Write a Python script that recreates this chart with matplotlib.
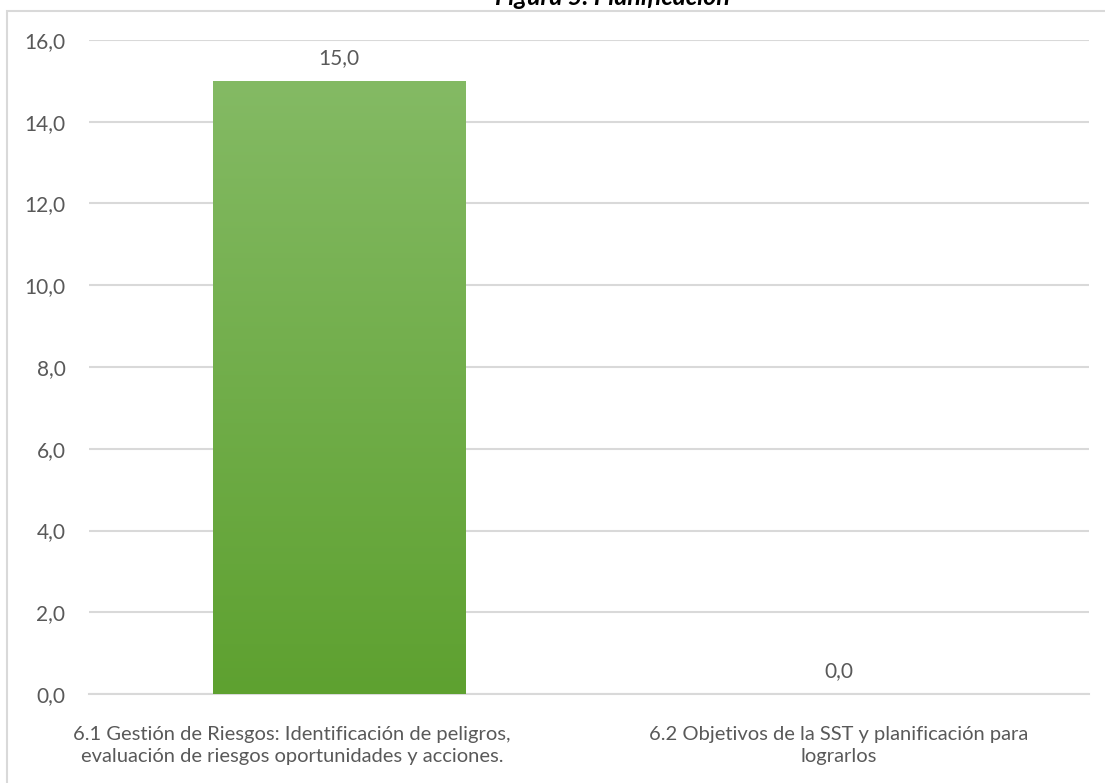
import numpy as np
import matplotlib.pyplot as plt
from matplotlib.patches import Rectangle
from matplotlib.colors import LinearSegmentedColormap
from matplotlib.transforms import ScaledTranslation

categories = ["6.1 Gestión de Riesgos: Identificación de peligros,\nevaluación de riesgos oportunidades y acciones.",
              "6.2 Objetivos de la SST y planificación para\nlograrlos"]
values = [15.0, 0.0]
yticks = [0, 2, 4, 6, 8, 10, 12, 14, 16]
title = "Figura 5. Planificación"

txt = '#595959'
grid = '#D9D9D9'
plt.rcParams['font.family'] = ['Lato', 'DejaVu Sans']

W, H = 1105, 783
fig = plt.figure(figsize=(W / 100, H / 100), dpi=100)
ax = fig.add_axes([89 / W, 1 - 694 / H, (1089 - 89) / W, (694 - 40) / H])

x = np.arange(len(values))
bars = ax.bar(x, values, width=0.505, color='#70AD47', zorder=3)

# vertical gradient inside the bars
grad = np.linspace(0, 1, 256).reshape(-1, 1)
cmap = LinearSegmentedColormap.from_list('g', ['#5EA130', '#84BA64'])
for b in bars:
    if b.get_height() <= 0:
        continue
    b.set_facecolor('none')
    im = ax.imshow(grad, cmap=cmap, origin='lower', aspect='auto', zorder=3,
                   extent=[b.get_x(), b.get_x() + b.get_width(), 0, b.get_height()])
    im.set_clip_path(b)

for xi, v in zip(x, values):
    ax.annotate(f"{v:.1f}".replace('.', ','), (xi, v), xytext=(0, 9.5),
                textcoords='offset points', ha='center', va='bottom',
                fontsize=15, color=txt)

ax.set_xlim(-0.5, 1.5)
ax.set_ylim(0, 16)
ax.set_yticks(yticks)
ax.set_yticklabels([f"{t:.1f}".replace('.', ',') for t in yticks])
ax.set_xticks(x)
ax.set_xticklabels(categories, fontsize=14.5, color=txt, linespacing=1.38)
ax.tick_params(axis='y', length=0, pad=17, labelsize=15, labelcolor=txt)
ax.tick_params(axis='x', length=0, pad=23)
# excel pushes the first wrapped label a bit to the left
lab0 = ax.get_xticklabels()[0]
lab0.set_transform(lab0.get_transform() + ScaledTranslation(-0.47, 0, fig.dpi_scale_trans))
ax.yaxis.grid(True, color=grid, linewidth=1.5, zorder=0)
ax.set_axisbelow(True)
for s in ['top', 'right', 'left']:
    ax.spines[s].set_visible(False)
ax.spines['bottom'].set_color(grid)
ax.spines['bottom'].set_linewidth(1.5)

# outer chart border (extends off image to the right and bottom)
fig.patches.append(Rectangle((7 / W, -0.05), 1.2, 1 - 11 / H + 0.05,
                             transform=fig.transFigure, fill=False,
                             edgecolor=grid, linewidth=1.5))

fig.text(612 / W, 1 - 5 / H, title, ha='center', va='baseline',
         fontsize=18, fontweight='bold', fontstyle='italic', color='black')

fig.savefig('out.png', dpi=100)
